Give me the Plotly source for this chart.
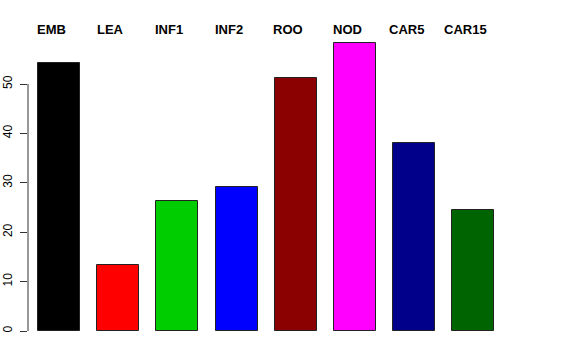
import plotly.graph_objects as go

categories = ["EMB", "LEA", "INF1", "INF2", "ROO", "NOD", "CAR5", "CAR15"]
values = [54.2, 13.3, 26.3, 29.1, 51.3, 58.2, 38.0, 24.4]
colors = ["#000000", "#FF0000", "#00CD00", "#0000FF", "#8B0000", "#FF00FF", "#00008B", "#006400"]
y_ticks = [0, 10, 20, 30, 40, 50]

# geometry in page pixels
W, H = 576, 360
plot_left, plot_right = 28, 546
plot_top, zero_px = 40, 331
ml, mr, mt, mb = plot_left, W - plot_right, plot_top, H - zero_px
plot_w = W - ml - mr
plot_h = H - mt - mb

px_per_unit_x = 59.2
first_center_px = 59
x0 = -(first_center_px - plot_left) / px_per_unit_x
x1 = x0 + plot_w / px_per_unit_x
y_top = plot_h / 4.94
label_shift = -8 / px_per_unit_x
label_center_y = 30

fig = go.Figure()
fig.add_trace(go.Bar(
    x=list(range(len(categories))),
    y=values,
    width=0.71,
    marker=dict(color=colors, line=dict(color="#222222", width=1)),
    hoverinfo="skip",
))

for i, lab in enumerate(categories):
    fig.add_annotation(
        text="<b>" + lab + "</b>",
        x=i + label_shift, xref="x", xanchor="center",
        y=(zero_px - label_center_y) / plot_h, yref="paper", yanchor="middle",
        showarrow=False,
        font=dict(size=13, color="black", family="Liberation Sans, Arial, sans-serif"),
    )

fig.add_shape(type="line", xref="paper", yref="y", x0=0, x1=0, y0=0, y1=50,
              line=dict(color="#333333", width=1))

fig.update_layout(
    width=W, height=H,
    margin=dict(l=ml, r=mr, t=mt, b=mb, pad=0, autoexpand=False),
    plot_bgcolor="white", paper_bgcolor="white",
    showlegend=False,
    bargap=0,
    font=dict(family="Liberation Sans, Arial, sans-serif", color="black"),
    xaxis=dict(range=[x0, x1], visible=False, fixedrange=True, automargin=False),
    yaxis=dict(range=[0, y_top], tickvals=y_ticks, ticktext=[str(v) for v in y_ticks],
               ticks="outside", ticklen=7, tickcolor="#333333", tickwidth=1,
               tickangle=-90, tickfont=dict(size=12, color="black"),
               showgrid=False, zeroline=False, showline=False, ticklabelstandoff=3,
               automargin=False),
)

fig.write_html("out.html", config={"displayModeBar": False},
               post_script="document.body.style.margin='0';")
